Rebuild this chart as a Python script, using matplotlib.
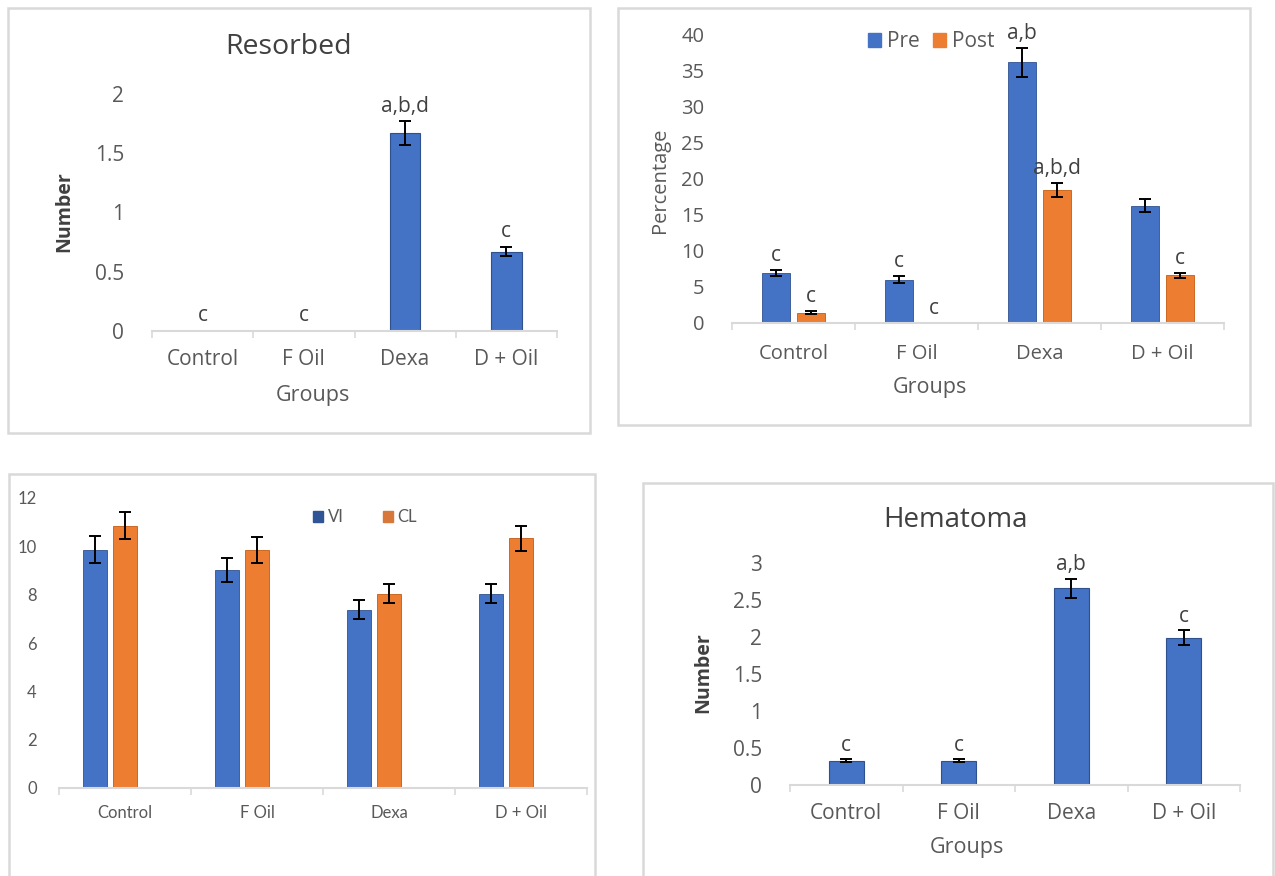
import numpy as np
import matplotlib
matplotlib.use('Agg')
import matplotlib.pyplot as plt
from matplotlib.patches import Rectangle, Patch

# ---- data ----
groups = ['Control', 'F Oil', 'Dexa', 'D + Oil']

resorbed = [0, 0, 1.67, 0.67]
resorbed_err = [0, 0, 0.10, 0.04]
resorbed_lbl = ['c', 'c', 'a,b,d', 'c']

pre = [6.9, 6.0, 36.2, 16.3]
pre_err = [0.4, 0.5, 2.0, 0.9]
pre_lbl = ['c', 'c', 'a,b', '']
post = [1.4, 0, 18.5, 6.6]
post_err = [0.2, 0, 1.0, 0.4]
post_lbl = ['c', 'c', 'a,b,d', 'c']

vi = [9.86, 9.03, 7.38, 8.04]
vi_err = [0.55, 0.5, 0.4, 0.4]
cl = [10.86, 9.86, 8.04, 10.34]
cl_err = [0.56, 0.53, 0.4, 0.52]

hematoma = [0.33, 0.33, 2.66, 1.99]
hematoma_err = [0.02, 0.02, 0.13, 0.10]
hematoma_lbl = ['c', 'c', 'a,b', 'c']

BLUE = '#4472C4'
ORANGE = '#ED7D31'
GRID = '#d9d9d9'
TXT = '#595959'
DARK = '#404040'

W, H = 1275, 876
plt.rcParams['font.family'] = ['Open Sans', 'DejaVu Sans']
fig = plt.figure(figsize=(W / 100, H / 100), dpi=100)


def box(x0, y0, x1, y1):  # panel frame in pixels
    fig.patches.append(Rectangle((x0 / W, 1 - y1 / H), (x1 - x0) / W, (y1 - y0) / H,
                                 transform=fig.transFigure, fill=False,
                                 edgecolor=GRID, linewidth=1.8))


def make_ax(x0, x1, ytop, ybot, ymax, step, fs, ticks_fmt=None, xpad=12, ypad=20):
    ax = fig.add_axes([x0 / W, 1 - ybot / H, (x1 - x0) / W, (ybot - ytop) / H])
    ax.set_xlim(-0.5, 3.5)
    ax.set_ylim(0, ymax)
    for s in ['top', 'right', 'left']:
        ax.spines[s].set_visible(False)
    ax.spines['bottom'].set_color(GRID)
    ax.spines['bottom'].set_linewidth(1.5)
    ax.set_xticks(range(4), groups)
    ax.set_xticks(np.arange(-0.5, 4, 1), minor=True)
    ax.tick_params(axis='x', which='major', length=0, labelsize=fs, labelcolor=TXT, pad=xpad)
    ax.tick_params(axis='x', which='minor', length=5, color=GRID, width=1.2)
    yt = np.arange(0, ymax + step / 2, step)
    ax.set_yticks(yt, [ticks_fmt(v) for v in yt] if ticks_fmt else None)
    ax.tick_params(axis='y', length=0, labelsize=fs, labelcolor=TXT, pad=ypad)
    ax.set_facecolor('none')
    return ax


def num(v):
    return ('%g' % v)


def notes(ax, xs, tops, lbls, off, fs):
    for x, t, s in zip(xs, tops, lbls):
        if s:
            ax.annotate(s, (x, t), xytext=(0, off), textcoords='offset points',
                        ha='center', va='baseline', fontsize=fs, color=DARK,
                        annotation_clip=False)


x = np.arange(4)
ekw = dict(fmt='none', ecolor='black', elinewidth=1.4, capsize=4, capthick=1.4)

# ---- Resorbed ----
box(8, 8, 590, 433)
ax1 = make_ax(152, 557, 94, 331, 2, 0.5, 15, num, xpad=13)
ax1.bar(x, resorbed, 0.3, color=BLUE, edgecolor='#2f528f', linewidth=0.8)
ax1.errorbar(x[2:], resorbed[2:], resorbed_err[2:], **ekw)
notes(ax1, x, np.add(resorbed, resorbed_err), resorbed_lbl, 7, 15)
fig.text(289 / W, 1 - 47 / H, 'Resorbed', ha='center', va='center', fontsize=20.5, color=DARK)
fig.text(64 / W, 1 - 212 / H, 'Number', rotation=90, ha='center', va='center',
         fontsize=14, fontweight='bold', color=DARK)
fig.text(313 / W, 1 - 395 / H, 'Groups', ha='center', va='center', fontsize=15.5, color=TXT)

# ---- Pre / Post ----
box(618, 8, 1250, 425)
ax2 = make_ax(732, 1224, 35, 323, 40, 5, 14.5, xpad=15)
ax2.bar(x - 0.142, pre, 0.23, color=BLUE, edgecolor='#2f528f', linewidth=0.6, label='Pre')
ax2.bar(x + 0.142, post, 0.23, color=ORANGE, edgecolor='#c55a11', linewidth=0.6, label='Post')
ax2.errorbar(x - 0.142, pre, pre_err, **ekw)
ax2.errorbar(x[[0, 2, 3]] + 0.142, np.array(post)[[0, 2, 3]], np.array(post_err)[[0, 2, 3]], **ekw)
notes(ax2, x - 0.142, np.add(pre, pre_err), pre_lbl, 6.5, 15)
notes(ax2, x + 0.142, np.add(post, post_err), post_lbl, 6.5, 15)
ax2.legend(handles=[Patch(color=BLUE, label='Pre'), Patch(color=ORANGE, label='Post')],
           loc='center', bbox_to_anchor=(0.405, 0.976), ncol=2, frameon=False,
           fontsize=15, handlelength=0.65, handleheight=0.65, handletextpad=0.3,
           columnspacing=0.6, labelcolor=TXT)
fig.text(660 / W, 1 - 180 / H, 'Percentage', rotation=90, ha='center', va='center',
         fontsize=14.5, color=TXT)
fig.text(930 / W, 1 - 388 / H, 'Groups', ha='center', va='center', fontsize=15.5, color=TXT)

# ---- VI / CL ----
box(9, 474, 595, 880)
ax3 = make_ax(59, 587, 498, 788, 12, 2, 12, xpad=12, ypad=16)
for lab in ax3.get_xticklabels() + ax3.get_yticklabels():
    lab.set_fontfamily('Lato')
ax3.bar(x - 0.227, vi, 0.18, color=BLUE, edgecolor='#2f528f', linewidth=0.6)
ax3.bar(x, cl, 0.18, color=ORANGE, edgecolor='#c55a11', linewidth=0.6)
ax3.errorbar(x - 0.227, vi, vi_err, **ekw)
ax3.errorbar(x, cl, cl_err, **ekw)
ax3.legend(handles=[Patch(color='#2f5597', label='VI'), Patch(color='#d9773a', label='CL')],
           loc='center', bbox_to_anchor=(0.58, 0.934), ncol=2, frameon=False,
           prop={'family': 'Lato', 'size': 12}, handlelength=0.6, handleheight=0.6,
           handletextpad=0.25, columnspacing=2.4, labelcolor=TXT)

# ---- Hematoma ----
box(643, 483, 1273, 880)
ax4 = make_ax(790, 1240, 563, 785, 3, 0.5, 15, num, xpad=13)
ax4.bar(x, hematoma, 0.31, color=BLUE, edgecolor='#2f528f', linewidth=0.8)
ax4.errorbar(x, hematoma, hematoma_err, **ekw)
notes(ax4, x, np.add(hematoma, hematoma_err), hematoma_lbl, 6, 15)
fig.text(955 / W, 1 - 520 / H, 'Hematoma', ha='center', va='center', fontsize=20, color=DARK)
fig.text(703 / W, 1 - 673 / H, 'Number', rotation=90, ha='center', va='center',
         fontsize=14, fontweight='bold', color=DARK)
fig.text(967 / W, 1 - 848 / H, 'Groups', ha='center', va='center', fontsize=15.5, color=TXT)

fig.savefig('out.png', dpi=100, facecolor='white')
